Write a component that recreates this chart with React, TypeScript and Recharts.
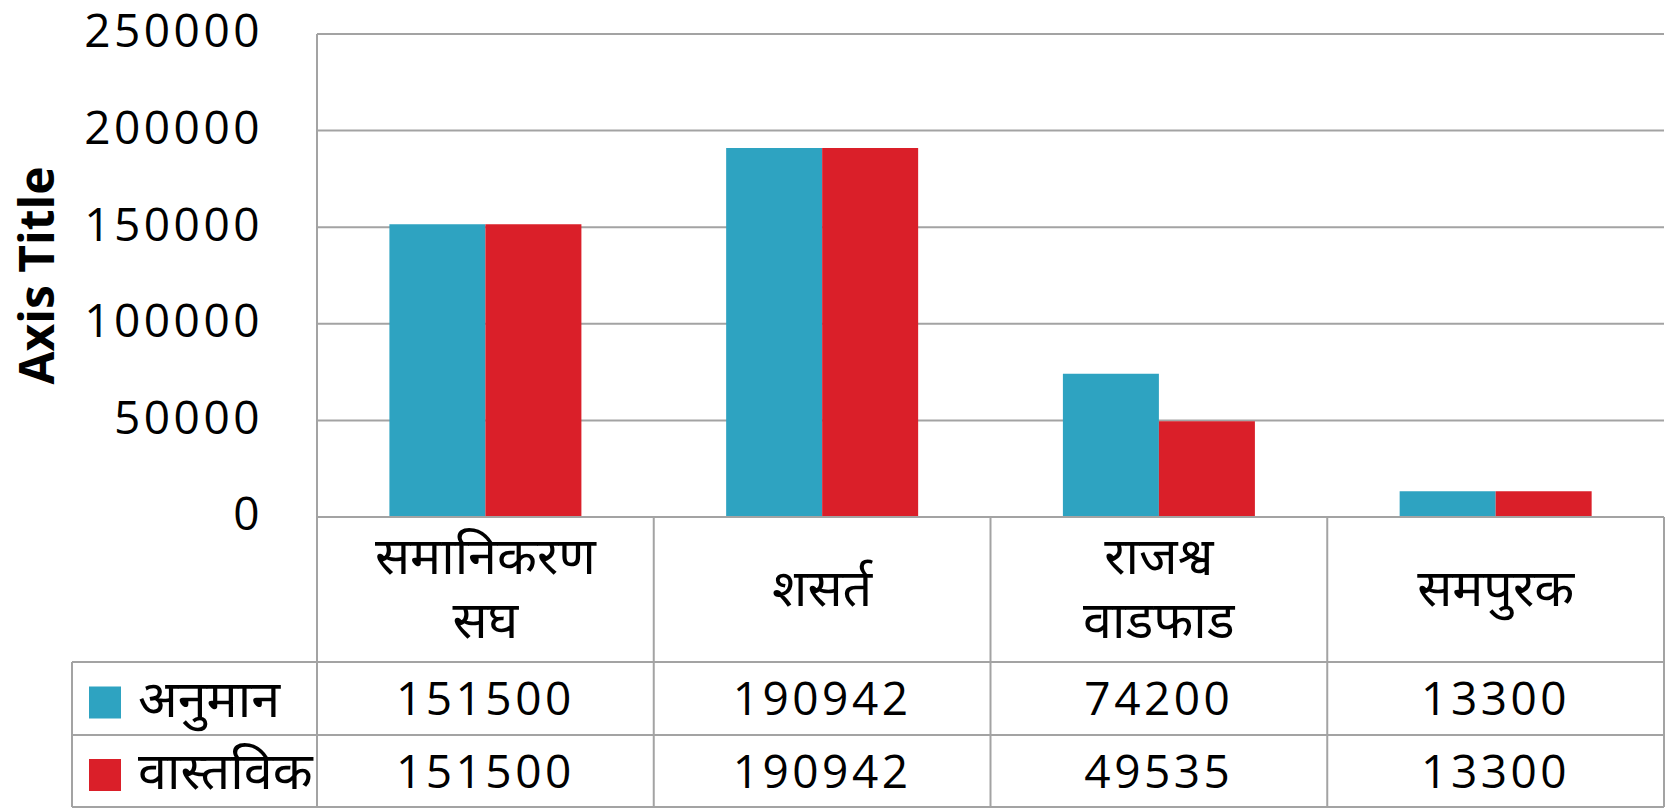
import React from 'react';
import { BarChart, Bar, XAxis, YAxis, CartesianGrid } from 'recharts';

const categories = ['समानिकरण सघ', 'शसर्त', 'राजश्व वाडफाड', 'समपुरक'];
const categoryLines = [['समानिकरण', 'सघ'], ['शसर्त'], ['राजश्व', 'वाडफाड'], ['समपुरक']];
const seriesNames = ['अनुमान', 'वास्तविक'];
const estimate = [151500, 190942, 74200, 13300];
const actual = [151500, 190942, 49535, 13300];
const yTicks = [0, 50000, 100000, 150000, 200000, 250000];

const W = 1675;
const H = 810;
const M = { top: 34, right: 11, left: 0, bottom: 0 };
const Y_W = 317;
const X_H = 293;
const ROW_H = [145, 73, 73];
const LEGEND_X = 72;
const GRID = '#a3a3a3';
const COLORS = ['#2ea3c1', '#da1f29'];
const NUM_FONT = '"Open Sans", "DejaVu Sans", sans-serif';
const DEV_FONT = '"Noto Sans Devanagari", "Lohit Devanagari", "Noto Sans", sans-serif';

const data = categories.map((c, i) => ({ name: c, est: estimate[i], act: actual[i] }));
const seriesValues = [estimate, actual];

function TableTick(props: any) {
  const { x, y, index } = props;
  const plotW = W - M.left - Y_W - M.right;
  const colW = plotW / categories.length;
  const left = x - colW / 2;
  const right = x + colW / 2;
  const plotRight = M.left + Y_W + plotW;
  const r1 = y + ROW_H[0];
  const r2 = r1 + ROW_H[1];
  const r3 = r2 + ROW_H[2] - 1;
  const lines = categoryLines[index] || [];
  const lineH = 64;
  const cy = (y + r1) / 2 - 2;
  const rowCenters = [(r1 + r2) / 2, (r2 + r3) / 2];
  return (
    <g>
      {index === 0 && (
        <g>
          <line x1={LEGEND_X} x2={plotRight} y1={r1} y2={r1} stroke={GRID} strokeWidth={2} />
          <line x1={LEGEND_X} x2={plotRight} y1={r2} y2={r2} stroke={GRID} strokeWidth={2} />
          <line x1={LEGEND_X} x2={plotRight} y1={r3} y2={r3} stroke={GRID} strokeWidth={2} />
          <line x1={LEGEND_X} x2={LEGEND_X} y1={r1} y2={r3} stroke={GRID} strokeWidth={2} />
          <line x1={left} x2={left} y1={y} y2={r3} stroke={GRID} strokeWidth={2} />
          {seriesNames.map((s, si) => (
            <g key={s}>
              <rect x={LEGEND_X + 17} y={rowCenters[si] - 12} width={32} height={32} fill={COLORS[si]} />
              <text x={LEGEND_X + 66} y={rowCenters[si]} dy="0.35em" fontSize={52} fontFamily={DEV_FONT} fill="#000">
                {s}
              </text>
            </g>
          ))}
        </g>
      )}
      <line x1={right} x2={right} y1={y} y2={r3} stroke={GRID} strokeWidth={2} />
      {lines.map((ln, li) => (
        <text
          key={li}
          x={x}
          y={cy + (li - (lines.length - 1) / 2) * lineH}
          dy="0.35em"
          textAnchor="middle"
          fontSize={52}
          fontFamily={DEV_FONT}
          fill="#000"
        >
          {ln}
        </text>
      ))}
      {seriesValues.map((vals, si) => (
        <text
          key={si}
          x={x}
          y={rowCenters[si]}
          dy="0.36em"
          textAnchor="middle"
          fontSize={46}
          letterSpacing={3.5}
          fontFamily={NUM_FONT}
          fill="#000"
        >
          {vals[index]}
        </text>
      ))}
    </g>
  );
}

function AxisTitle(props: any) {
  const vb = props.viewBox || { x: 0, y: 0, width: 0, height: 0 };
  const cx = 37;
  const cy = vb.y + vb.height / 2;
  return (
    <text
      x={cx}
      y={cy}
      transform={`rotate(-90, ${cx}, ${cy})`}
      textAnchor="middle"
      dy="0.35em"
      fontSize={48}
      fontWeight="bold"
      fontFamily={NUM_FONT}
      fill="#000"
    >
      Axis Title
    </text>
  );
}

export default function App() {
  return (
    <div style={{ position: 'absolute', left: 0, top: 0, width: W, height: H, background: '#fff' }}>
      <BarChart width={W} height={H} data={data} margin={M} barCategoryGap="21.5%" barGap={0}>
        <CartesianGrid vertical={false} stroke={GRID} strokeWidth={2} />
        <XAxis
          dataKey="name"
          height={X_H}
          interval={0}
          tickLine={false}
          tickSize={0}
          tickMargin={0}
          axisLine={{ stroke: GRID, strokeWidth: 2 }}
          tick={(p: any) => <TableTick {...p} />}
        />
        <YAxis
          width={Y_W}
          domain={[0, 250000]}
          ticks={yTicks}
          interval={0}
          tickLine={false}
          tickSize={0}
          tickMargin={54}
          axisLine={{ stroke: GRID, strokeWidth: 2 }}
          tick={{ fontSize: 46, fill: '#000', fontFamily: NUM_FONT, letterSpacing: 3.5, dy: -3 }}
          label={(p: any) => <AxisTitle {...p} />}
        />
        <Bar dataKey="est" name={seriesNames[0]} fill={COLORS[0]} isAnimationActive={false} />
        <Bar dataKey="act" name={seriesNames[1]} fill={COLORS[1]} isAnimationActive={false} />
      </BarChart>
    </div>
  );
}
